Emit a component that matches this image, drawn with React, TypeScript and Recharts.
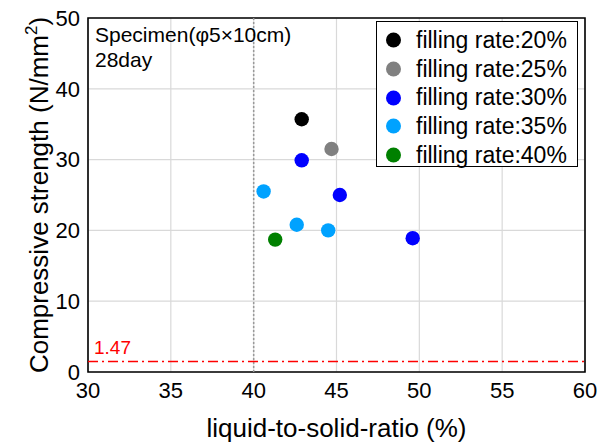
import React from 'react';
import {
  ScatterChart,
  Scatter,
  XAxis,
  YAxis,
  CartesianGrid,
  ReferenceLine,
  ReferenceArea,
  Legend,
} from 'recharts';

const seriesNames = [
  'filling rate:20%',
  'filling rate:25%',
  'filling rate:30%',
  'filling rate:35%',
  'filling rate:40%',
];
const seriesColors = ['#000000', '#808080', '#0000ff', '#00a2ff', '#008000'];

// liquid-to-solid ratio (%) per filling rate
const ratio20 = [42.9];
const ratio25 = [44.7];
const ratio30 = [42.9, 45.2, 49.6];
const ratio35 = [40.6, 42.6, 44.5];
const ratio40 = [41.3];

// compressive strength (N/mm2)
const strength20 = [35.7];
const strength25 = [31.5];
const strength30 = [29.9, 25.0, 18.9];
const strength35 = [25.5, 20.8, 20.0];
const strength40 = [18.7];

const xTicks = [30, 35, 40, 45, 50, 55, 60];
const yTicks = [0, 10, 20, 30, 40, 50];
const limitLine = 1.47;
const markLine = 40;

const ratios = [ratio20, ratio25, ratio30, ratio35, ratio40];
const strengths = [strength20, strength25, strength30, strength35, strength40];

const seriesData = ratios.map((xs, i) =>
  xs.map((x, j) => ({ x, y: strengths[i][j] }))
);

const FONT = '"Liberation Sans", Arial, sans-serif';

const renderLegend = () => (
  <div
    style={{
      border: '1px solid #000',
      background: '#fff',
      width: 202,
      height: 146,
      boxSizing: 'border-box',
      paddingTop: 4,
      fontFamily: FONT,
    }}
  >
    {seriesNames.map((name, i) => (
      <div
        key={name}
        style={{ display: 'flex', alignItems: 'center', height: 28.7, fontSize: 23, color: '#000' }}
      >
        <svg width={39} height={20} style={{ flex: 'none' }}>
          <circle cx={16.5} cy={10} r={7.5} fill={seriesColors[i]} />
        </svg>
        <span>{name}</span>
      </div>
    ))}
  </div>
);

const YLabel = (props: any) => {
  const vb = props.viewBox || { x: 0, y: 18, width: 88, height: 354 };
  const cx = vb.x + 48;
  const cy = vb.y + vb.height / 2;
  return (
    <text
      x={cx}
      y={cy}
      transform={`rotate(-90, ${cx}, ${cy})`}
      textAnchor="middle"
      fontSize={26}
      fontFamily={FONT}
      fill="#000"
    >
      Compressive strength (N/mm
      <tspan fontSize={17} dy={-11}>2</tspan>
      <tspan dy={11}>)</tspan>
    </text>
  );
};

const XLabel = (props: any) => {
  const vb = props.viewBox || { x: 88, y: 372, width: 497, height: 72 };
  return (
    <text
      x={vb.x + vb.width / 2}
      y={vb.y + 65}
      textAnchor="middle"
      fontSize={26}
      fontFamily={FONT}
      fill="#000"
    >
      liquid-to-solid-ratio (%)
    </text>
  );
};

const LimitLabel = (props: any) => {
  const vb = props.viewBox || { x: 88, y: 362 };
  return (
    <text x={vb.x + 6} y={vb.y - 8} fontSize={19} fontFamily={FONT} fill="#ff0000">
      {limitLine}
    </text>
  );
};

const makeDot = (color: string) => (props: any) => (
  <circle cx={props.cx} cy={props.cy} r={7.2} fill={color} />
);

export default function App() {
  return (
    <div style={{ position: 'absolute', left: 0, top: 0, width: 599, height: 444, background: '#fff' }}>
      <ScatterChart
        width={599}
        height={444}
        margin={{ top: 18, right: 14, left: 0, bottom: 0 }}
        style={{ fontFamily: FONT }}
      >
        <CartesianGrid stroke="#d9d9d9" strokeWidth={1.2} />
        <XAxis
          type="number"
          dataKey="x"
          domain={[30, 60]}
          ticks={xTicks}
          height={72}
          tickLine={false}
          axisLine={false}
          tickMargin={4}
          tick={{ fontSize: 22, fill: '#000', fontFamily: FONT }}
          label={<XLabel />}
          allowDataOverflow
        />
        <YAxis
          type="number"
          dataKey="y"
          domain={[0, 50]}
          ticks={yTicks}
          width={88}
          tickLine={false}
          axisLine={false}
          tick={{ fontSize: 22, fill: '#000', fontFamily: FONT }}
          label={<YLabel />}
          allowDataOverflow
        />
        <ReferenceLine x={markLine} stroke="#999" strokeWidth={1.5} strokeDasharray="2 2" />
        <ReferenceLine
          y={limitLine}
          stroke="#ff0000"
          strokeWidth={1.5}
          strokeDasharray="10 4 2 4"
          label={<LimitLabel />}
        />
        <ReferenceArea x1={30} x2={60} y1={0} y2={50} fill="none" fillOpacity={0} stroke="#000" strokeWidth={1.6} />
        {seriesData.map((pts, i) => (
          <Scatter
            key={seriesNames[i]}
            name={seriesNames[i]}
            data={pts}
            fill={seriesColors[i]}
            shape={makeDot(seriesColors[i])}
            isAnimationActive={false}
          />
        ))}
        <Legend
          layout="vertical"
          align="center"
          verticalAlign="middle"
          content={renderLegend}
          wrapperStyle={{ position: 'absolute', left: 376, top: 21, width: 202, height: 146 }}
        />
      </ScatterChart>
      <div
        style={{
          position: 'absolute',
          left: 95,
          top: 22,
          fontFamily: FONT,
          fontSize: 21,
          lineHeight: '25px',
          color: '#000',
        }}
      >
        <div>Specimen(φ5×10cm)</div>
        <div>28day</div>
      </div>
    </div>
  );
}
